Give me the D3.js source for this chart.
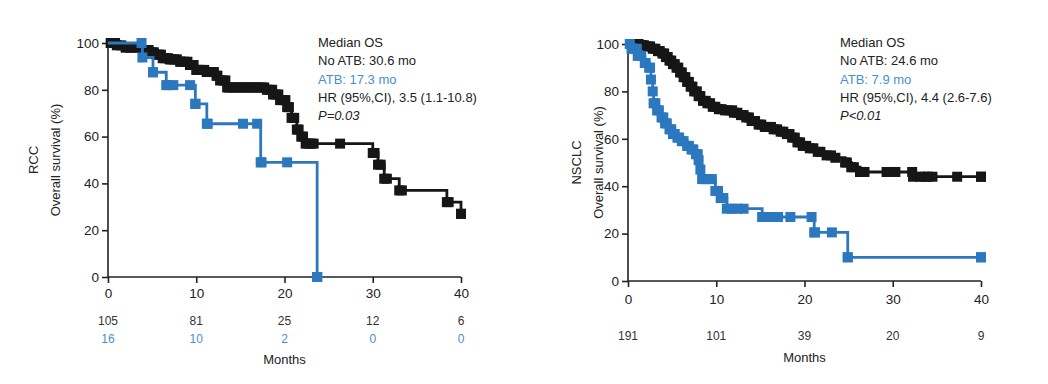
<!DOCTYPE html>
<html>
<head>
<meta charset="utf-8">
<script src="https://cdn.jsdelivr.net/npm/d3@7"></script>
<style>
  body { margin: 0; background: #fff; }
  svg { display: block; font-family: "Liberation Sans", Arial, sans-serif; }
</style>
</head>
<body>
<div id="chart"></div>
<script>
// ---- RCC panel data (months, survival %) ----
const rccNoAtbTimes = [0, 1, 2, 4, 4.8, 5.5, 6.2, 7, 8.2, 9.3, 10, 11.2, 12.3, 12.7, 13.5, 18, 18.7, 19.5, 20.3, 20.8, 21.4, 21.9, 22.4, 30, 30.6, 31.3, 33, 38.4, 40];
const rccNoAtbSurv  = [100, 99, 98, 97, 96, 95, 93.5, 93, 92, 90.6, 88.5, 87.6, 86, 84, 81, 80, 78, 75.6, 72.6, 68, 63, 60, 57, 53, 48, 42, 37, 32, 27];
const rccNoAtbCensor = [0.3, 0.8, 1.5, 2.5, 3, 3.5, 4.3, 4.6, 5, 5.2, 5.8, 6, 6.5, 6.8, 7.2, 7.5, 7.8, 8.2, 8.6, 9, 9.3, 9.7, 10.2, 10.5, 10.9, 11.2, 11.6, 12, 12.4, 13, 13.3, 13.7, 14, 14.4, 14.7, 15, 15.4, 15.7, 16, 16.4, 16.7, 17, 17.4, 17.7, 18.3, 18.6, 19, 19.3, 19.8, 20.1, 20.5, 21.1, 21.6, 22.1, 22.7, 23, 23.3, 26.3, 30.2, 30.9, 31.6, 33.3, 38.6];
const rccAtbTimes = [0, 3.9, 5.1, 6.6, 9.9, 11.2, 17.3, 23.7];
const rccAtbSurv  = [100, 93.8, 87.5, 82, 74, 65.5, 49, 0];
const rccAtbCensor = [3.8, 5.1, 6.8, 7.4, 9.3, 9.9, 11.3, 15.3, 16.9, 17.4, 20.3, 23.7];
const rccRiskNoAtb = [105, 81, 25, 12, 6];
const rccRiskAtb = [16, 10, 2, 0, 0];

// ---- NSCLC panel data ----
const nsNoAtbTimes = [0, 1.5, 2.2, 2.8, 3.4, 3.9, 4.3, 4.7, 5.1, 5.5, 5.9, 6.3, 6.7, 7.1, 7.5, 8, 8.5, 9, 9.6, 10.3, 11, 12, 12.8, 13.4, 14, 14.8, 15.5, 16.5, 17.3, 18, 18.6, 19.2, 19.8, 20.6, 21.5, 22.5, 23.5, 24.6, 25.3, 26.3, 32.3];
const nsNoAtbSurv  = [100, 99.5, 99, 98, 97, 96, 94.5, 93, 91.5, 90, 88, 86, 84, 82, 80, 78, 76, 75, 73.5, 72.5, 72, 71, 70, 69, 67.5, 66, 65, 64, 63, 62, 60.5, 58.5, 57, 56, 54.5, 53, 52, 50, 48, 46, 44];
const nsNoAtbCensor = [0.3, 0.8, 1.2, 1.8, 2.5, 3.1, 3.6, 4.1, 4.5, 4.9, 5.3, 5.7, 6.1, 6.5, 6.9, 7.3, 7.8, 8.2, 8.8, 9.3, 9.9, 10.6, 11.4, 11.8, 12.4, 13.1, 13.7, 14.4, 15.1, 15.8, 16.2, 16.9, 17.6, 18.3, 18.9, 19.5, 20.2, 21, 21.8, 23, 24.8, 25.6, 26.3, 26.8, 29.3, 30.3, 32.2, 33.1, 33.6, 34, 34.5, 37.3, 40];
const nsAtbTimes = [0, 0.4, 1.1, 1.9, 2.4, 2.6, 2.8, 2.9, 3.3, 3.8, 4.2, 4.7, 5.1, 5.6, 6.1, 6.7, 7.2, 7.7, 8, 8.2, 8.4, 9.9, 10.5, 11.2, 15.2, 21.1, 24.9];
const nsAtbSurv  = [100, 98, 95, 92, 90, 85, 80, 75, 72, 69, 66.5, 64, 62, 60.5, 59, 57, 55.5, 53.5, 51, 47, 43, 38, 35, 30.5, 27, 20.5, 10];
const nsAtbCensor = [0.2, 0.6, 1, 1.5, 2, 2.5, 3.1, 3.5, 4, 4.4, 4.9, 5.3, 5.8, 6.3, 6.9, 7.4, 7.9, 8.6, 9.1, 9.5, 10.2, 10.8, 11.8, 12.4, 13.1, 15.5, 16.2, 17, 18.4, 20.8, 21.2, 23.1, 24.9, 40];
const nsRiskNoAtb = [191, 101, 39, 20, 9];

const xTicks = [0, 10, 20, 30, 40];
const yTicks = [0, 20, 40, 60, 80, 100];

const BLACK = '#161616';
const BLUE = '#2b78bf';
const BLUE_TEXT = '#4a8fd0';

const svg = d3.select('#chart').append('svg')
  .attr('width', 1048)
  .attr('height', 384);

function survAt(times, surv, t) {
  let s = surv[0];
  for (let i = 0; i < times.length; i++) {
    if (times[i] <= t) s = surv[i];
  }
  return s;
}

function drawPanel(p) {
  const x = d3.scaleLinear().domain([0, 40]).range([p.left, p.right]);
  const y = d3.scaleLinear().domain([0, 100]).range([p.bottom, p.top]);
  const g = svg.append('g');

  // axes
  const yAxis = g.append('g')
    .attr('transform', `translate(${p.left},0)`)
    .call(d3.axisLeft(y).tickValues(yTicks).tickSize(6).tickPadding(3));
  const xAxis = g.append('g')
    .attr('transform', `translate(0,${p.bottom})`)
    .call(d3.axisBottom(x).tickValues(xTicks).tickSize(6).tickPadding(p.xPad));
  [xAxis, yAxis].forEach(a => {
    a.select('.domain').attr('stroke', '#222').attr('stroke-width', 1.6);
    a.selectAll('.tick line').attr('stroke', '#222').attr('stroke-width', 1.6);
    a.selectAll('.tick text').attr('fill', '#222').style('font-size', '13.5px');
  });
  yAxis.select('.domain').attr('d', `M0,${y(0)}V${y(100)}`);
  xAxis.select('.domain').attr('d', `M${x(0)},0H${x(40)}`);

  // curves with censor squares
  p.series.forEach(s => {
    const end = Math.max(s.times[s.times.length - 1], d3.max(s.censor));
    const pts = s.times.map((t, i) => [t, s.surv[i]]);
    pts.push([end, s.surv[s.surv.length - 1]]);
    g.append('path')
      .datum(pts)
      .attr('fill', 'none')
      .attr('stroke', s.color)
      .attr('stroke-width', 2.8)
      .attr('d', d3.line().curve(d3.curveStepAfter).x(d => x(d[0])).y(d => y(d[1])));
    const marks = s.censor.map(t => [t, survAt(s.times, s.surv, t)])
      .concat(pts.slice(1));
    g.selectAll(null)
      .data(marks)
      .enter().append('rect')
      .attr('x', d => x(d[0]) - 5)
      .attr('y', d => y(d[1]) - 5)
      .attr('width', 10)
      .attr('height', 10)
      .attr('fill', s.color);
  });

  // legend text
  const lg = g.append('text')
    .attr('x', p.legendX)
    .attr('y', 47)
    .style('font-size', '13px')
    .attr('fill', '#222');
  p.legend.forEach((l, i) => {
    lg.append('tspan')
      .attr('x', p.legendX)
      .attr('dy', i === 0 ? 0 : 18.3)
      .attr('fill', l.color || '#222')
      .style('font-style', l.italic ? 'italic' : 'normal')
      .text(l.text);
  });

  // numbers at risk
  p.risk.forEach(r => {
    g.selectAll(null)
      .data(r.values)
      .enter().append('text')
      .attr('x', (d, i) => x(xTicks[i]))
      .attr('y', r.y)
      .attr('text-anchor', 'middle')
      .style('font-size', '12px')
      .attr('fill', r.color)
      .text(d => d);
  });

  g.append('text')
    .attr('x', x(20))
    .attr('y', p.monthsY)
    .attr('text-anchor', 'middle')
    .style('font-size', '13px')
    .attr('fill', '#222')
    .text('Months');

  // y titles
  const midY = (p.top + p.bottom) / 2;
  g.append('text')
    .attr('transform', `translate(${p.titleX},${midY}) rotate(-90)`)
    .attr('text-anchor', 'middle')
    .style('font-size', '13px')
    .attr('fill', '#222')
    .text(p.title);
  g.append('text')
    .attr('transform', `translate(${p.titleX + 22},${midY}) rotate(-90)`)
    .attr('text-anchor', 'middle')
    .style('font-size', '13px')
    .attr('fill', '#222')
    .text('Overall survival (%)');
}

drawPanel({
  left: 108, right: 461, top: 43, bottom: 277, xPad: 5,
  titleX: 38, title: 'RCC', legendX: 318,
  series: [
    { times: rccNoAtbTimes, surv: rccNoAtbSurv, censor: rccNoAtbCensor, color: BLACK },
    { times: rccAtbTimes, surv: rccAtbSurv, censor: rccAtbCensor, color: BLUE }
  ],
  legend: [
    { text: 'Median OS' },
    { text: 'No ATB: 30.6 mo' },
    { text: 'ATB: 17.3 mo', color: BLUE_TEXT },
    { text: 'HR (95%,CI), 3.5 (1.1-10.8)' },
    { text: 'P=0.03', italic: true }
  ],
  risk: [
    { values: rccRiskNoAtb, y: 325, color: '#333' },
    { values: rccRiskAtb, y: 343, color: BLUE_TEXT }
  ],
  monthsY: 364
});

drawPanel({
  left: 628, right: 981, top: 44, bottom: 281, xPad: 7,
  titleX: 581, title: 'NSCLC', legendX: 840,
  series: [
    { times: nsNoAtbTimes, surv: nsNoAtbSurv, censor: nsNoAtbCensor, color: BLACK },
    { times: nsAtbTimes, surv: nsAtbSurv, censor: nsAtbCensor, color: BLUE }
  ],
  legend: [
    { text: 'Median OS' },
    { text: 'No ATB: 24.6 mo' },
    { text: 'ATB: 7.9 mo', color: BLUE_TEXT },
    { text: 'HR (95%,CI), 4.4 (2.6-7.6)' },
    { text: 'P<0.01', italic: true }
  ],
  risk: [
    { values: nsRiskNoAtb, y: 340, color: '#333' }
  ],
  monthsY: 362
});
</script>
</body>
</html>
